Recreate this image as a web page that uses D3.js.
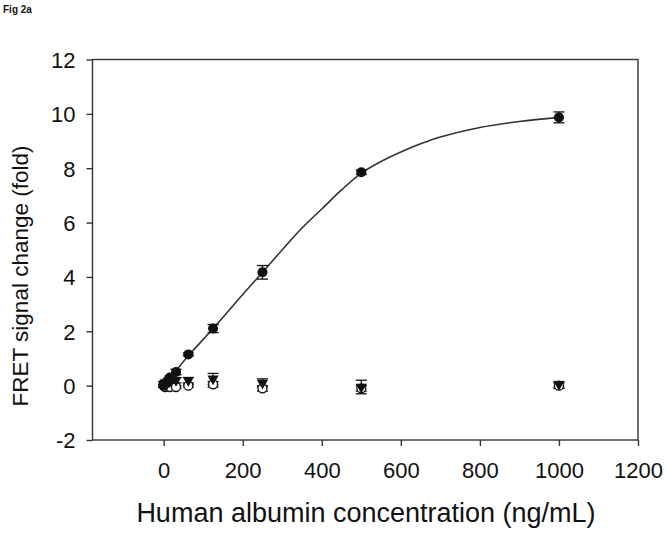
<!DOCTYPE html>
<html>
<head>
<meta charset="utf-8">
<script src="https://cdn.jsdelivr.net/npm/d3@7"></script>
<style>
  body { margin: 0; background: #fff; }
  text { font-family: "Liberation Sans", Arial, sans-serif; fill: #111; }
</style>
</head>
<body>
<svg width="670" height="533"></svg>
<script>
// concentrations (ng/mL)
const conc = [0, 3.9, 7.8, 15.6, 31.25, 62.5, 125, 250, 500, 1000];
// human albumin (filled circles)
const hsa = [0.0, 0.08, 0.15, 0.3, 0.5, 1.15, 2.1, 4.17, 7.85, 9.87];
const hsaErr = [0.05, 0.05, 0.05, 0.05, 0.1, 0.05, 0.15, 0.25, 0.08, 0.2];
// control 1 (filled down triangles)
const ctrlA = [0.05, 0.1, 0.05, 0.15, 0.2, 0.2, 0.25, 0.1, -0.05, 0.05];
const ctrlAErr = [0.1, 0.1, 0.1, 0.1, 0.1, 0.1, 0.2, 0.15, 0.25, 0.1];
// control 2 (open circles)
const ctrlB = [0.0, -0.05, 0.0, -0.05, -0.05, 0.0, 0.05, -0.1, -0.1, 0.0];
const ctrlBErr = [0.05, 0.05, 0.05, 0.05, 0.05, 0.05, 0.1, 0.1, 0.1, 0.1];
// fitted curve
const fitX = [0, 31, 62.5, 125, 200, 250, 300, 350, 400, 450, 500, 550, 600, 650, 700, 800, 900, 1000];
const fitY = [0, 0.55, 1.1, 2.1, 3.35, 4.17, 5.0, 5.8, 6.5, 7.2, 7.82, 8.25, 8.6, 8.9, 9.15, 9.5, 9.72, 9.87];
const xTicks = [0, 200, 400, 600, 800, 1000, 1200];
const yTicks = [-2, 0, 2, 4, 6, 8, 10, 12];

const svg = d3.select('svg');
const m = { left: 92.5, right: 638, top: 59.5, bottom: 440 };

const x = d3.scaleLinear().domain([-180, 1200]).range([m.left, m.right]);
const y = d3.scaleLinear().domain([-2, 12]).range([m.bottom, m.top]);
const ink = '#333';

svg.append('text').attr('x', 3).attr('y', 13)
    .style('font-size', '10px').style('font-weight', 'bold').text('Fig 2a');

// frame
svg.append('rect').attr('x', m.left).attr('y', m.top)
    .attr('width', m.right - m.left).attr('height', m.bottom - m.top)
    .attr('fill', 'none').attr('stroke', ink).attr('stroke-width', 1.4);

// axes
const fmt = d => String(d);
const xAxis = svg.append('g').attr('transform', `translate(0,${m.bottom})`)
    .call(d3.axisBottom(x).tickValues(xTicks).tickFormat(fmt).tickSize(6));
const yAxis = svg.append('g').attr('transform', `translate(${m.left},0)`)
    .call(d3.axisLeft(y).tickValues(yTicks).tickFormat(fmt).tickSize(6).tickPadding(11));
[xAxis, yAxis].forEach(g => {
  g.select('.domain').remove();
  g.selectAll('line').attr('stroke', ink).attr('stroke-width', 1.4);
  g.selectAll('text').style('font-size', '22px').attr('fill', '#111')
    .style('font-family', '"Liberation Sans", Arial, sans-serif');
});
xAxis.selectAll('text').attr('dy', '0.71em').attr('y', 22);
yAxis.selectAll('text').attr('dy', '0.36em');

svg.append('text').attr('x', 366).attr('y', 522)
    .attr('text-anchor', 'middle').style('font-size', '27px')
    .text('Human albumin concentration (ng/mL)');
svg.append('text').attr('transform', 'translate(28,276) rotate(-90)')
    .attr('text-anchor', 'middle').style('font-size', '22.5px')
    .text('FRET signal change (fold)');

// fitted curve
const line = d3.line().x(d => x(d[0])).y(d => y(d[1])).curve(d3.curveCatmullRom);
svg.append('path').datum(d3.zip(fitX, fitY))
    .attr('d', line).attr('fill', 'none').attr('stroke', ink).attr('stroke-width', 1.6);

function errorBars(vals, errs) {
  const g = svg.append('g').attr('stroke', '#111').attr('stroke-width', 1.3);
  conc.forEach((c, i) => {
    const cx = x(c), y1 = y(vals[i] + errs[i]), y2 = y(vals[i] - errs[i]);
    g.append('line').attr('x1', cx).attr('x2', cx).attr('y1', y1).attr('y2', y2);
    g.append('line').attr('x1', cx - 5.5).attr('x2', cx + 5.5).attr('y1', y1).attr('y2', y1);
    g.append('line').attr('x1', cx - 5.5).attr('x2', cx + 5.5).attr('y1', y2).attr('y2', y2);
  });
}

errorBars(ctrlB, ctrlBErr);
errorBars(ctrlA, ctrlAErr);
errorBars(hsa, hsaErr);

// open circles
svg.append('g').selectAll('circle').data(conc).join('circle')
    .attr('cx', d => x(d)).attr('cy', (d, i) => y(ctrlB[i])).attr('r', 4.5)
    .attr('fill', '#fff').attr('stroke', '#111').attr('stroke-width', 1.3);

// down triangles
const tri = d3.symbol().type(d3.symbolTriangle).size(55);
svg.append('g').selectAll('path').data(conc).join('path')
    .attr('d', tri)
    .attr('transform', (d, i) => `translate(${x(d)},${y(ctrlA[i])}) rotate(180)`)
    .attr('fill', '#111');

// filled circles
svg.append('g').selectAll('circle').data(conc).join('circle')
    .attr('cx', d => x(d)).attr('cy', (d, i) => y(hsa[i])).attr('r', 5)
    .attr('fill', '#111');
</script>
</body>
</html>
